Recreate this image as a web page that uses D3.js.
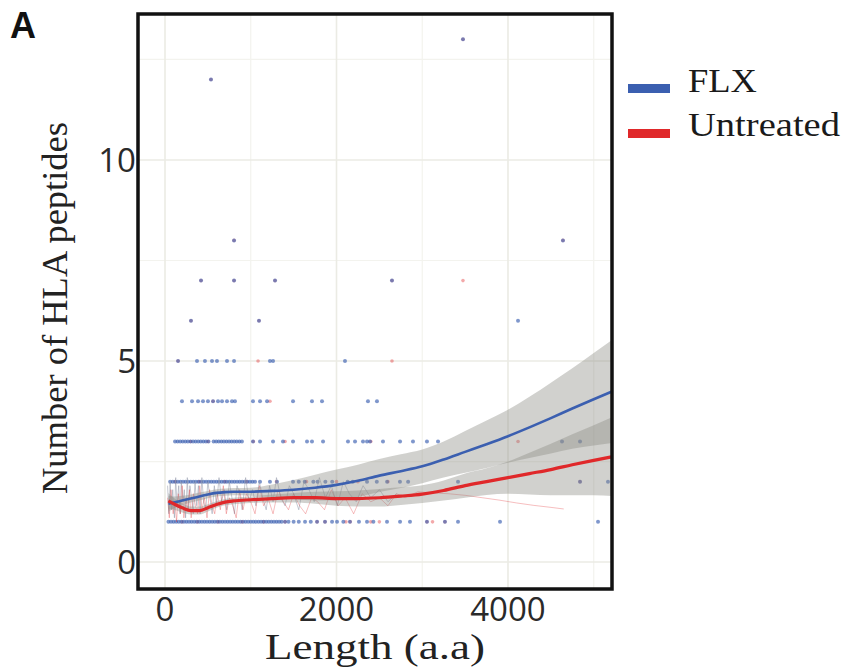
<!DOCTYPE html>
<html><head><meta charset="utf-8">
<script src="https://cdn.jsdelivr.net/npm/d3@7"></script>
<style>body{margin:0;background:#fff}</style>
</head><body>
<svg id="c" width="846" height="670"></svg>
<script>
// ---------- data ----------
const seriesNames = ["FLX", "Untreated"];
const xTicks = [0, 2000, 4000];
const xMinor = [1000, 3000, 5000];
const yTicks = [0, 5, 10];
const yMinor = [2.5, 7.5, 12.5];

// peptide counts (x = protein length) per count level
const flxAt1 = [40,70,100,130,160,190,220,250,280,310,340,370,400,430,460,490,520,550,580,610,640,670,700,730,760,790,820,850,880,910,940,970,1000,1030,1060,1090,1120,1150,1180,1210,1240,1270,1300,1330,1360,1400,1440,1500,1560,1633,1700,1773,1866,1948,2006,2080,2157,2262,2356,2430,2589,2741,2857,3055,3265,3417,3907,5050];
const flxAt2 = [60,90,120,150,180,210,240,270,300,330,360,390,420,450,480,510,540,570,600,630,660,690,720,750,780,810,840,870,900,930,960,990,1020,1050,1108,1224,1306,1493,1560,1630,1730,1780,1870,1950,2130,2190,2356,2470,2590,2740,2835,3417,4840,5166];
const flxAt3 = [117,147,177,207,237,267,297,327,357,387,417,447,477,507,567,597,627,657,687,717,747,777,807,837,867,897,1026,1108,1260,1376,1493,1656,1714,1843,2134,2216,2309,2356,2391,2542,2741,2892,3055,3184,4630,4840];
const flxAt4 = [198,315,385,443,501,560,618,665,723,781,816,1026,1108,1190,1493,1714,1831,2367,2472];
const flxAt5 = [152,373,466,548,606,723,805,1224,1260,2099];
const flxAt6 = [303,1096,4117];
const flxAt7 = [420,805,1283,2647];
const flxAt8 = [805,4641];
const flxAt12 = [536];
const flxAt13 = [3475];

const utAt1 = [200,380,620,900,1150,1400,1773,1866,2110,2160,2400,2500,3055,3120,3265];
const utAt2 = [120,400,700,950,1300,1650,2000,2250,2600,4840];
const utAt3 = [300,500,1030,1400,2400,4117];
const utAt4 = [560,1224];
const utAt5 = [152,1085,2647];
const utAt6 = [303,1096];
const utAt7 = [420,805,1283,2647,3475];
const utAt8 = [805,4641];
const utAt12 = [536];
const utAt13 = [3475];

// raw per-length traces
const flxRawX = [30,45,60,75,90,110,125,140,160,175,190,210,225,240,260,275,290,310,330,350,370,390,410,430,450,475,500,525,550,575,600,630,660,690,720,750,780,810,840,870,900,940,980,1020,1060,1100,1140,1180,1220,1260,1300,1350,1400,1450,1500,1560,1620,1680,1740,1800,1870,1940,2010,2080,2150,2230,2310,2400,2500,2600,2700];
const flxRawY = [1.9,1.2,2.0,1.3,1.8,1.1,2.1,1.4,1.9,1.2,2.0,1.5,1.8,1.1,2.1,1.3,1.9,1.6,1.2,2.0,1.4,1.9,1.2,2.1,1.5,1.3,2.0,1.6,1.2,1.9,1.4,2.1,1.5,1.8,1.3,2.0,1.6,1.2,1.9,1.7,1.3,2.1,1.5,1.8,1.4,2.0,1.6,1.3,1.9,1.5,2.1,1.6,1.4,1.9,1.7,1.3,2.0,1.8,1.5,2.1,1.6,1.9,1.4,2.0,1.7,1.5,1.9,1.6,1.8,1.5,1.7];
const utRawX = [30,50,70,95,115,135,155,180,200,220,245,265,285,305,330,355,380,405,430,460,490,520,550,580,610,645,680,715,750,790,830,870,910,950,1000,1050,1100,1150,1200,1260,1320,1380,1440,1500,1570,1640,1710,1780,1860,1940,2020,2100,2200,2300,2400,2500,2600,2700,2800,2950,3100,3300,3500,3700,3900,4100,4300,4500,4650];
const utRawY = [1.6,1.1,1.8,1.2,1.5,1.0,1.7,1.2,1.9,1.1,1.6,1.3,1.8,1.1,1.7,1.4,1.2,1.9,1.3,1.6,1.1,1.8,1.4,1.2,1.7,1.3,1.9,1.2,1.6,1.4,1.1,1.8,1.3,1.7,1.5,1.2,1.9,1.4,1.6,1.2,1.8,1.5,1.3,1.7,1.4,1.2,1.6,1.5,1.3,1.8,1.4,1.6,1.2,1.7,1.5,1.6,1.4,1.7,1.6,1.75,1.72,1.7,1.66,1.6,1.54,1.47,1.41,1.36,1.32];

// loess fits and confidence half-widths
const fitX     = [40,100,200,300,400,500,600,700,800,1000,1250,1500,1750,2000,2250,2500,2750,3000,3250,3500,3750,4000,4250,4500,4750,5000,5213];
const flxFit   = [1.45,1.48,1.53,1.58,1.63,1.68,1.72,1.74,1.75,1.75,1.77,1.80,1.85,1.92,2.02,2.15,2.26,2.38,2.55,2.74,2.93,3.13,3.35,3.58,3.82,4.05,4.24];
const flxHalf  = [0.20,0.15,0.12,0.10,0.10,0.09,0.09,0.09,0.09,0.10,0.16,0.24,0.32,0.38,0.40,0.41,0.42,0.42,0.45,0.52,0.59,0.66,0.76,0.88,1.00,1.15,1.28];
const utFit    = [1.52,1.45,1.35,1.28,1.28,1.35,1.43,1.49,1.52,1.55,1.58,1.60,1.60,1.58,1.58,1.60,1.64,1.69,1.78,1.90,2.00,2.10,2.20,2.30,2.42,2.53,2.62];
const utHalf   = [0.20,0.15,0.12,0.10,0.10,0.09,0.08,0.08,0.08,0.08,0.10,0.12,0.15,0.18,0.20,0.22,0.22,0.22,0.25,0.30,0.33,0.40,0.52,0.64,0.76,0.87,0.98];

// ---------- layout ----------
const svg = d3.select("#c");
const L = 138, R = 612, T = 14, B = 589;
const x = d3.scaleLinear().domain([-315, 5213]).range([L, R]);
const y = d3.scaleLinear().domain([-0.67, 13.63]).range([B, T]);
const blue = "#3b5fb0", red = "#e0282a";
const serif = "'Liberation Serif','Times New Roman',serif";
const sans = "'Open Sans','DejaVu Sans',sans-serif";

svg.append("defs").append("clipPath").attr("id","clip")
  .append("rect").attr("x",L).attr("y",T).attr("width",R-L).attr("height",B-T);

// grid
const g = svg.append("g").attr("clip-path","url(#clip)");
g.selectAll(".vmin").data(xMinor).join("line")
  .attr("x1",d=>x(d)).attr("x2",d=>x(d)).attr("y1",T).attr("y2",B)
  .attr("stroke","#f3f3ee").attr("stroke-width",1.2);
g.selectAll(".hmin").data(yMinor).join("line")
  .attr("y1",d=>y(d)).attr("y2",d=>y(d)).attr("x1",L).attr("x2",R)
  .attr("stroke","#f3f3ee").attr("stroke-width",1.2);
g.selectAll(".vmaj").data(xTicks).join("line")
  .attr("x1",d=>x(d)).attr("x2",d=>x(d)).attr("y1",T).attr("y2",B)
  .attr("stroke","#ebebe4").attr("stroke-width",1.6);
g.selectAll(".hmaj").data(yTicks).join("line")
  .attr("y1",d=>y(d)).attr("y2",d=>y(d)).attr("x1",L).attr("x2",R)
  .attr("stroke","#ebebe4").attr("stroke-width",1.6);

// points
function pts(levels, arrays){
  const out=[];
  arrays.forEach((arr,i)=>arr.forEach(v=>out.push([v,levels[i]])));
  return out;
}
const lv = [1,2,3,4,5,6,7,8,12,13];
const utPts = pts(lv,[utAt1,utAt2,utAt3,utAt4,utAt5,utAt6,utAt7,utAt8,utAt12,utAt13]);
const flxPts = pts(lv,[flxAt1,flxAt2,flxAt3,flxAt4,flxAt5,flxAt6,flxAt7,flxAt8,flxAt12,flxAt13]);
g.selectAll(".up").data(utPts).join("circle")
  .attr("cx",d=>x(d[0])).attr("cy",d=>y(d[1])).attr("r",1.8)
  .attr("fill",red).attr("fill-opacity",0.4);
g.selectAll(".fp").data(flxPts).join("circle")
  .attr("cx",d=>x(d[0])).attr("cy",d=>y(d[1])).attr("r",2)
  .attr("fill",blue).attr("fill-opacity",0.65);

// raw traces
const line = d3.line().x(d=>x(d[0])).y(d=>y(d[1]));
g.append("path").datum(flxRawX.map((v,i)=>[v,flxRawY[i]]))
  .attr("d",line).attr("fill","none").attr("stroke","#9095a8").attr("stroke-opacity",0.5).attr("stroke-width",1);
g.append("path").datum(utRawX.map((v,i)=>[v,utRawY[i]]))
  .attr("d",line).attr("fill","none").attr("stroke",red).attr("stroke-opacity",0.3).attr("stroke-width",1);

// confidence ribbons
const area = d3.area().x(d=>x(d[0])).y0(d=>y(d[1]-d[2])).y1(d=>y(d[1]+d[2])).curve(d3.curveMonotoneX);
[[flxFit,flxHalf],[utFit,utHalf]].forEach(([f,h])=>{
  g.append("path").datum(fitX.map((v,i)=>[v,f[i],h[i]]))
    .attr("d",area).attr("fill","#8c8c85").attr("fill-opacity",0.4);
});
// fitted lines
const sline = d3.line().x(d=>x(d[0])).y(d=>y(d[1])).curve(d3.curveMonotoneX);
g.append("path").datum(fitX.map((v,i)=>[v,flxFit[i]]))
  .attr("d",sline).attr("fill","none").attr("stroke",blue).attr("stroke-width",2.6);
g.append("path").datum(fitX.map((v,i)=>[v,utFit[i]]))
  .attr("d",sline).attr("fill","none").attr("stroke",red).attr("stroke-width",3.2);

// frame
svg.append("rect").attr("x",L).attr("y",T).attr("width",R-L).attr("height",B-T)
  .attr("fill","none").attr("stroke","#111").attr("stroke-width",3.5);

// axes labels
svg.selectAll(".yt").data(yTicks).join("text")
  .attr("x",136).attr("y",d=>y(d)).attr("dy","0.36em").attr("text-anchor","end")
  .attr("font-family",sans).attr("font-size",33).attr("fill","#2a2a2a").text(d=>d);
svg.selectAll(".xt").data(xTicks).join("text")
  .attr("x",d=>x(d)).attr("y",621).attr("text-anchor","middle")
  .attr("font-family",sans).attr("font-size",33).attr("fill","#2a2a2a").text(d=>d);

svg.append("text").attr("x",375).attr("y",659).attr("text-anchor","middle")
  .attr("font-family",serif).attr("font-size",36).attr("fill","#222")
  .attr("textLength",220).attr("lengthAdjust","spacingAndGlyphs").text("Length (a.a)");
svg.append("text").attr("transform","translate(67,308) rotate(-90)").attr("text-anchor","middle")
  .attr("font-family",serif).attr("font-size",36).attr("fill","#222")
  .attr("textLength",372).attr("lengthAdjust","spacingAndGlyphs").text("Number of HLA peptides");

svg.append("text").attr("x",10).attr("y",38)
  .attr("font-family","'Liberation Sans',Arial,sans-serif").attr("font-weight","bold")
  .attr("font-size",36).attr("fill","#111").text("A");

// legend
const leg = svg.append("g");
[blue, red].forEach((c,i)=>{
  leg.append("rect").attr("x",628).attr("y",84+i*45).attr("width",42).attr("height",9).attr("fill",c);
  leg.append("text").attr("x",688).attr("y",92+i*44)
    .attr("font-family",serif).attr("font-size",34).attr("fill","#1a1a1a")
    .attr("textLength", i===0?69:152).attr("lengthAdjust","spacingAndGlyphs")
    .text(seriesNames[i]);
});
</script>
</body></html>
